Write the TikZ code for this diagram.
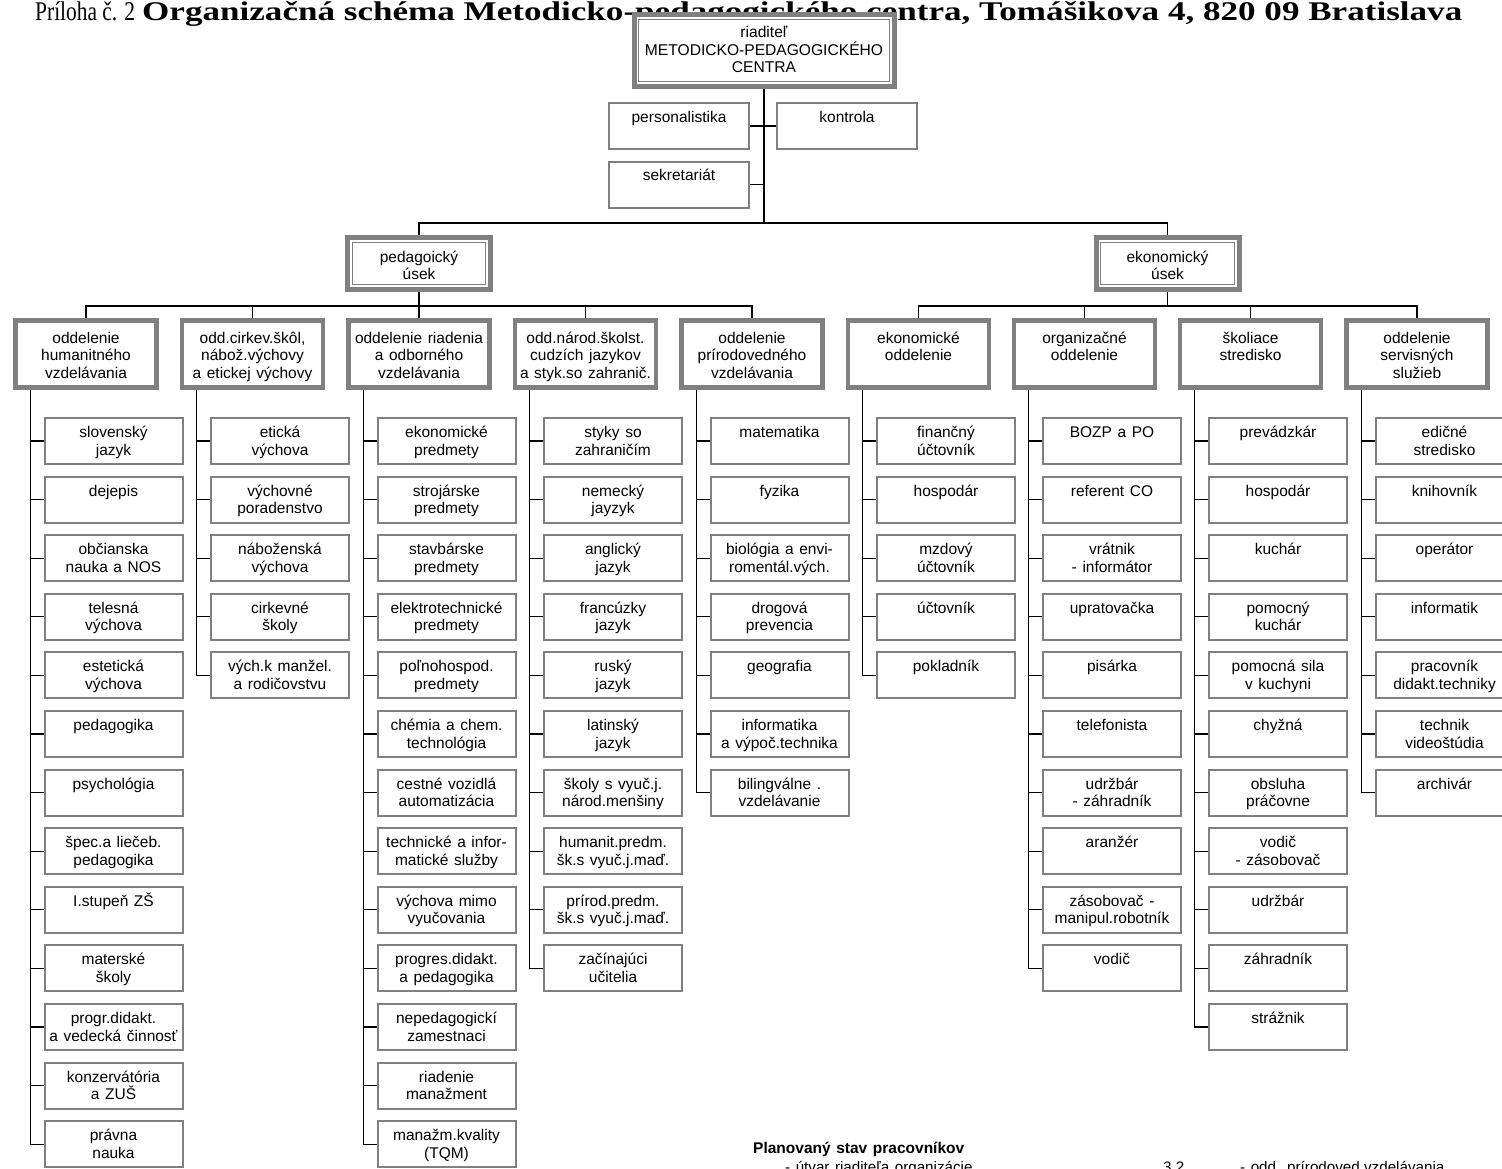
\documentclass[tikz,border=0pt]{standalone}
\usepackage{fontspec}
\usepackage{graphicx}
\setmainfont{Liberation Serif}
\newfontfamily\arialf{Liberation Sans}[WordSpace=1.3]
\definecolor{boxgray}{HTML}{808080}
\newcommand\tb[4]{\parbox[c][#2][t]{#1}{\centering\rule{0pt}{#3}#4\par}}
\newcommand\ct[1]{\tb{138pt}{46pt}{19.5pt}{#1}}
\newcommand\dt[1]{\tb{141pt}{67pt}{22.5pt}{#1}}
\newcommand\ut[1]{\tb{143pt}{52pt}{24.5pt}{#1}}
\tikzset{
  conn/.style={draw=black, line width=1.2pt},
  boxfont/.style={font=\arialf\fontsize{15.5}{17.5}\selectfont},
  thinbox/.style={boxfont, draw=boxgray, line width=2pt, fill=white, inner sep=0pt},
  deptbox/.style={boxfont, draw=boxgray, line width=4.5pt, fill=white, inner sep=0pt},
  usekbox/.style={boxfont, draw=boxgray, line width=5pt, fill=white, inner sep=0pt},
  innerline/.style={draw=boxgray, line width=0.9pt},
  plantext/.style={anchor=base west, inner sep=0pt, font=\arialf\fontsize{15.2}{17}\selectfont},
}
\newcommand\deptcol[4]{%
  \node[deptbox] (d#1) at (#2,354) {\dt{#3}};
  \coordinate (v#1) at ([xshift=17pt]d#1.south west);
  \foreach \txt [count=\k] in {#4} {
    \node[thinbox] (c#1-\k) at (#2+27.5, 441+58.6*\k-58.6) {\ct{\txt}};
    \draw[conn] (c#1-\k.west) -- (c#1-\k.west -| v#1);
    \xdef\lastk{\k}
  }
  \draw[conn] (v#1) |- (c#1-\lastk.west);
}
\begin{document}
\begin{tikzpicture}[x=1pt,y=-1pt]
\fill[white] (0,0) rectangle (1502,1168);
\useasboundingbox (0,0) rectangle (1502,1168);
\clip (0,0) rectangle (1502,1168);

% title
\node[anchor=base west, inner sep=0pt, font=\fontsize{27}{30}\selectfont] (title) at (35,20)
  {\resizebox{100pt}{\height}{Príloha č. 2}\hspace{7pt}\resizebox{1320pt}{\height}{\textbf{Organizačná schéma Metodicko-pedagogického centra, Tomášikova 4, 820 09 Bratislava}}};

% director
\node[usekbox, font=\arialf\fontsize{15.6}{17.5}\selectfont] (dir) at (764,50.5) {\tb{260pt}{72pt}{23pt}{riaditeľ\\METODICKO-PEDAGOGICKÉHO\\CENTRA}};
\draw[innerline] ([shift={(7.3pt,-7.3pt)}]dir.north west) rectangle ([shift={(-7.3pt,7.3pt)}]dir.south east);

% staff
\node[thinbox] (pers) at (679,126) {\tb{140pt}{46pt}{19pt}{personalistika}};
\node[thinbox] (kon) at (847,126) {\tb{140pt}{46pt}{19pt}{kontrola}};
\node[thinbox] (sek) at (679,184.5) {\tb{140pt}{46pt}{19pt}{sekretariát}};

\coordinate (bus) at (764,223);
\draw[conn] (dir.south) -- (bus);
\draw[conn] (pers.east) -- (kon.west);
\draw[conn] (sek.east) -- (sek.east -| dir.south);

% sections
\node[usekbox] (ped) at (419,263.5) {\ut{pedagoický\\úsek}};
\draw[innerline] ([shift={(7.3pt,-7.3pt)}]ped.north west) rectangle ([shift={(-7.3pt,7.3pt)}]ped.south east);
\node[usekbox] (eko) at (1167.5,263.5) {\ut{ekonomický\\úsek}};
\draw[innerline] ([shift={(7.3pt,-7.3pt)}]eko.north west) rectangle ([shift={(-7.3pt,7.3pt)}]eko.south east);
\draw[conn] (ped.north) |- (bus) -| (eko.north);

% departments and their sections
\deptcol{1}{86}{oddelenie\\humanitného\\vzdelávania}{{slovenský\\jazyk},{dejepis},{občianska\\nauka a NOS},{telesná\\výchova},{estetická\\výchova},{pedagogika},{psychológia},{špec.a liečeb.\\pedagogika},{I.stupeň ZŠ},{materské\\školy},{progr.didakt.\\a vedecká činnosť},{konzervátória\\a ZUŠ},{právna\\nauka}}
\deptcol{2}{252.5}{odd.cirkev.škôl,\\nábož.výchovy\\a etickej výchovy}{{etická\\výchova},{výchovné\\poradenstvo},{náboženská\\výchova},{cirkevné\\školy},{vých.k manžel.\\a rodičovstvu}}
\deptcol{3}{419}{oddelenie riadenia\\a odborného\\vzdelávania}{{ekonomické\\predmety},{strojárske\\predmety},{stavbárske\\predmety},{elektrotechnické\\predmety},{poľnohospod.\\predmety},{chémia a chem.\\technológia},{cestné vozidlá\\automatizácia},{technické a infor-\\matické služby},{výchova mimo\\vyučovania},{progres.didakt.\\a pedagogika},{nepedagogickí\\zamestnaci},{riadenie\\manažment},{manažm.kvality\\(TQM)}}
\deptcol{4}{585.5}{odd.národ.školst.\\cudzích jazykov\\a styk.so zahranič.}{{styky so\\zahraničím},{nemecký\\jayzyk},{anglický\\jazyk},{francúzky\\jazyk},{ruský\\jazyk},{latinský\\jazyk},{školy s vyuč.j.\\národ.menšiny},{humanit.predm.\\šk.s vyuč.j.maď.},{prírod.predm.\\šk.s vyuč.j.maď.},{začínajúci\\učitelia}}
\deptcol{5}{752}{oddelenie\\prírodovedného\\vzdelávania}{{matematika},{fyzika},{biológia a envi-\\romentál.vých.},{drogová\\prevencia},{geografia},{informatika\\a výpoč.technika},{bilingválne .\\vzdelávanie}}
\deptcol{6}{918.5}{ekonomické\\oddelenie}{{finančný\\účtovník},{hospodár},{mzdový\\účtovník},{účtovník},{pokladník}}
\deptcol{7}{1084.5}{organizačné\\oddelenie}{{BOZP a PO},{referent CO},{vrátnik\\- informátor},{upratovačka},{pisárka},{telefonista},{udržbár\\- záhradník},{aranžér},{zásobovač -\\manipul.robotník},{vodič}}
\deptcol{8}{1250.5}{školiace\\stredisko}{{prevádzkár},{hospodár},{kuchár},{pomocný\\kuchár},{pomocná sila\\v kuchyni},{chyžná},{obsluha\\práčovne},{vodič\\- zásobovač},{udržbár},{záhradník},{strážnik}}
\deptcol{9}{1417}{oddelenie\\servisných\\služieb}{{edičné\\stredisko},{knihovník},{operátor},{informatik},{pracovník\\didakt.techniky},{technik\\videoštúdia},{archivár}}

% buses to departments
\coordinate (pb) at (419,306);
\coordinate (eb) at (1167.5,306);
\draw[conn] (ped.south) -- (d3.north);
\draw[conn] (d1.north) |- (pb) -| (d5.north);
\draw[conn] (d2.north) -- (d2.north |- pb);
\draw[conn] (d4.north) -- (d4.north |- pb);
\draw[conn] (eko.south) -- (eb);
\draw[conn] (d6.north) |- (eb) -| (d9.north);
\draw[conn] (d7.north) -- (d7.north |- eb);
\draw[conn] (d8.north) -- (d8.north |- eb);

% planned staff
\node[plantext, font=\arialf\bfseries\fontsize{15.5}{17}\selectfont] (plan) at (753,1153) {Planovaný stav pracovníkov};
\node[plantext] (pl1) at (785,1172) {- útvar riaditeľa organizácie};
\node[plantext] (pl1n) at (1163,1172) {3,2};
\node[plantext] (pl2) at (1240,1172) {- odd. prírodoved.vzdelávania};
\end{tikzpicture}
\end{document}
